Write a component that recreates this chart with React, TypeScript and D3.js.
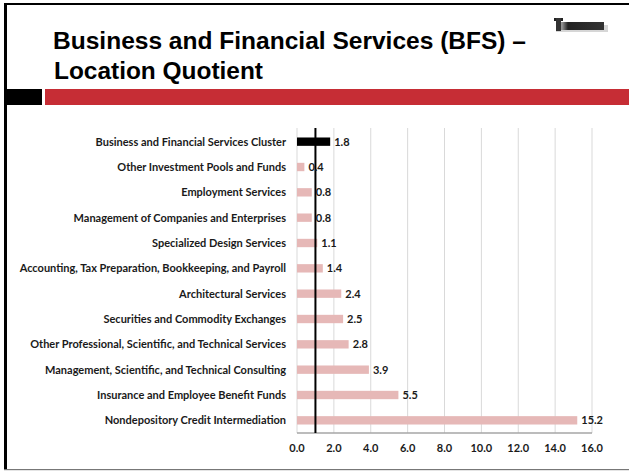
import React from "react";
import * as d3 from "d3";

const categories = [
  "Business and Financial Services Cluster",
  "Other Investment Pools and Funds",
  "Employment Services",
  "Management of Companies and Enterprises",
  "Specialized Design Services",
  "Accounting, Tax Preparation, Bookkeeping, and Payroll",
  "Architectural Services",
  "Securities and Commodity Exchanges",
  "Other Professional, Scientific, and Technical Services",
  "Management, Scientific, and Technical Consulting",
  "Insurance and Employee Benefit Funds",
  "Nondepository Credit Intermediation",
];
const values = [1.8, 0.4, 0.8, 0.8, 1.1, 1.4, 2.4, 2.5, 2.8, 3.9, 5.5, 15.2];
const xTicks = [0, 2, 4, 6, 8, 10, 12, 14, 16];
const referenceLine = 1.0;
const titleLines = ["Business and Financial Services (BFS) –", "Location Quotient"];

const W = 629;
const H = 471;

export default function App() {
  const x = d3.scaleLinear().domain([0, 16]).range([297, 592]);
  const y = d3
    .scaleBand<string>()
    .domain(categories)
    .range([129, 433])
    .paddingInner(0.67)
    .paddingOuter(0.335);
  const bh = y.bandwidth();
  const labelFont = "Lato, 'Open Sans', sans-serif";
  const fs = 11;
  return (
    <svg
      width={W}
      height={H}
      style={{ position: "absolute", left: 0, top: 0, background: "#fff" }}
    >
      {/* slide frame */}
      <rect x={4} y={3} width={W - 4} height={2} fill="#000" />
      <rect x={4} y={3} width={3} height={467} fill="#000" />
      <rect x={4} y={469} width={W - 4} height={1.2} fill="#777" />

      {/* title */}
      <text
        x={53}
        y={49}
        fontFamily="'Liberation Sans', Arial, sans-serif"
        fontWeight="bold"
        fontSize={23.5}
        fill="#000"
        textLength={473}
        lengthAdjust="spacingAndGlyphs"
      >
        {titleLines[0]}
      </text>
      <text
        x={54}
        y={79}
        fontFamily="'Liberation Sans', Arial, sans-serif"
        fontWeight="bold"
        fontSize={23.5}
        fill="#000"
        textLength={209}
        lengthAdjust="spacingAndGlyphs"
      >
        {titleLines[1]}
      </text>

      {/* logo */}
      <defs>
        <linearGradient id="lg" x1="0" x2="1" y1="0" y2="0">
          <stop offset="0" stopColor="#111" />
          <stop offset="0.12" stopColor="#999" />
          <stop offset="0.25" stopColor="#222" />
          <stop offset="1" stopColor="#333" />
        </linearGradient>
      </defs>
      <g>
        <rect x={556} y={25} width={52} height={7} fill="#bbb" opacity={0.6} />
        <rect x={556} y={22} width={48} height={8} fill="url(#lg)" />
        <rect x={554} y={18} width={9} height={3} fill="#222" />
        <rect x={556} y={18} width={5} height={13} fill="#333" />
      </g>

      {/* band */}
      <rect x={7} y={89} width={35} height={16} fill="#000" />
      <rect x={45} y={89} width={W - 45} height={16} fill="#C62D35" />

      {/* gridlines */}
      {xTicks.map((t) => (
        <line
          key={"g" + t}
          x1={x(t)}
          x2={x(t)}
          y1={128}
          y2={433}
          stroke="#d9d9d9"
          strokeWidth={1}
        />
      ))}

      {/* bars */}
      {categories.map((c, i) => (
        <rect
          key={c}
          x={x(0)}
          y={y(c)!}
          width={x(values[i]) - x(0)}
          height={bh}
          fill={i === 0 ? "#000" : "#E6B8B7"}
        />
      ))}

      {/* axis line */}
      <line x1={x(0)} x2={x(16)} y1={433} y2={433} stroke="#a6a6a6" strokeWidth={1.5} />

      {/* reference line */}
      <line
        x1={x(referenceLine)}
        x2={x(referenceLine)}
        y1={128}
        y2={433}
        stroke="#000"
        strokeWidth={2}
      />

      {/* category labels */}
      {categories.map((c) => (
        <text
          key={"l" + c}
          x={286}
          y={y(c)! + bh / 2}
          dy="0.35em"
          textAnchor="end"
          fontFamily={labelFont}
          fontWeight="bold"
          fontSize={fs}
          fill="#1a1a1a"
        >
          {c}
        </text>
      ))}

      {/* value labels */}
      {categories.map((c, i) => (
        <text
          key={"v" + c}
          x={x(values[i]) + 4}
          y={y(c)! + bh / 2}
          dy="0.35em"
          fontFamily={labelFont}
          fontWeight="bold"
          fontSize={fs}
          fill="#1a1a1a"
        >
          {values[i].toFixed(1)}
        </text>
      ))}

      {/* tick labels */}
      {xTicks.map((t) => (
        <text
          key={"t" + t}
          x={x(t)}
          y={448}
          dy="0.35em"
          textAnchor="middle"
          fontFamily={labelFont}
          fontWeight="bold"
          fontSize={fs}
          fill="#1a1a1a"
        >
          {t.toFixed(1)}
        </text>
      ))}
    </svg>
  );
}
